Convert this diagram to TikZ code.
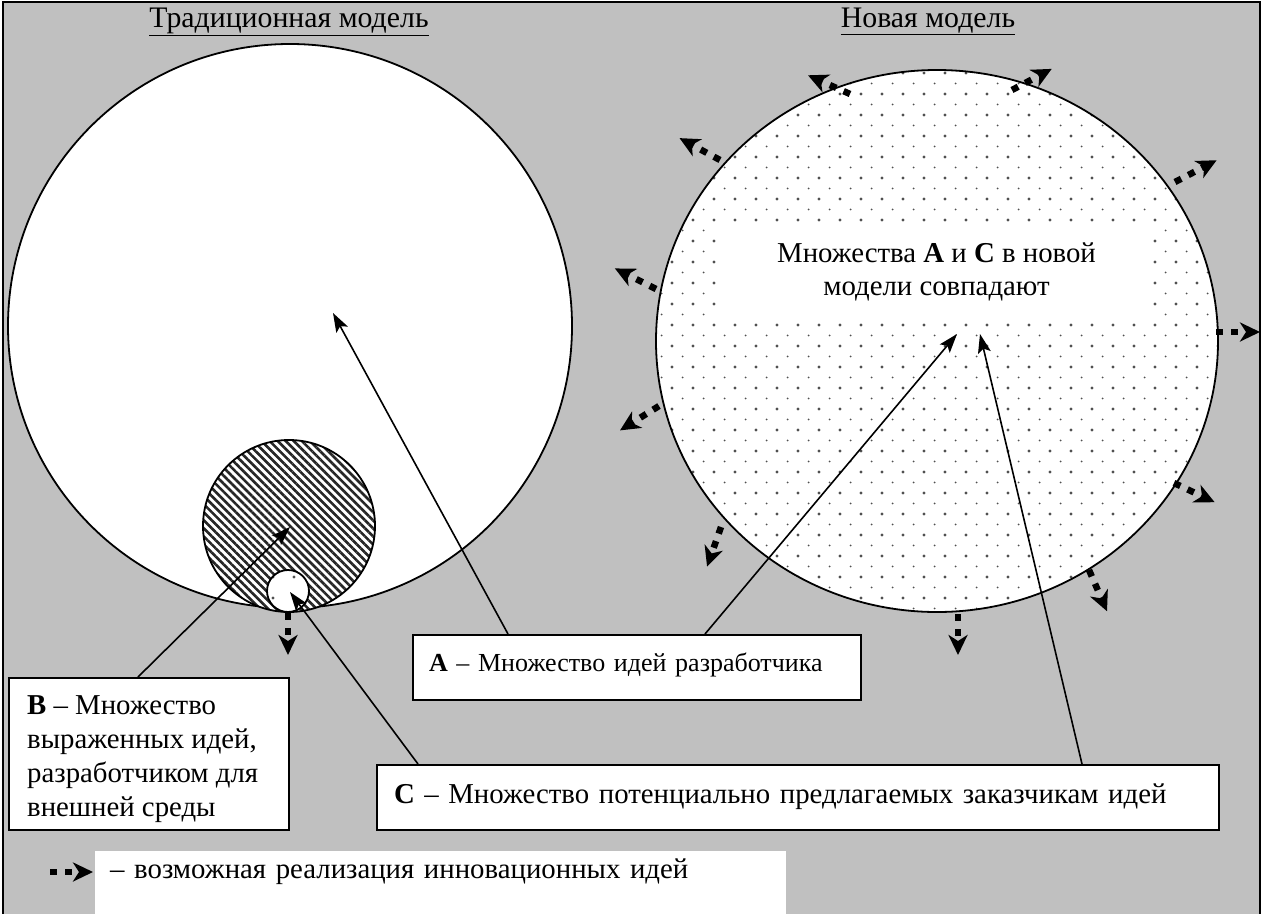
\documentclass[tikz,border=0pt]{standalone}
\usepackage{fontspec}
\setmainfont{Liberation Serif}
\usetikzlibrary{arrows.meta}
\usetikzlibrary{patterns.meta}
\usetikzlibrary{calc}
\usetikzlibrary{positioning}
\definecolor{mygray}{HTML}{C0C0C0}
\definecolor{mydots}{HTML}{505050}
\tikzset{x=1pt, y=-1pt, every node/.style={font={\fontsize{28.8}{34}\selectfont}}}
\tikzstyle{box} = [draw=black, fill=white, line width=2pt, anchor=north west, inner ysep=0pt, align=left]
\tikzstyle{txt} = [anchor=north west, inner sep=0pt, align=left]
\tikzstyle{title} = [anchor=base, font={\fontsize{29.8}{34}\selectfont}]
\tikzstyle{ln} = [draw, line width=1.6pt, -{Stealth[length=19pt, width=13pt, inset=4pt]}]
\tikzstyle{idea} = [draw, line width=6.5pt, dash pattern=on 7pt off 8pt, -{Stealth[length=20pt, width=19pt, inset=6pt]}]
\tikzstyle{ring} = [draw=black, line width=1.8pt]
\tikzstyle{dotsbig} = [pattern={Dots[distance=21pt, radius=1.7pt]}, pattern color=mydots]
\tikzstyle{dotssmall} = [pattern={Dots[distance=21pt, radius=1pt, xshift=10.5pt, yshift=10.5pt]}, pattern color=mydots]

\begin{document}
\begin{tikzpicture}
  \useasboundingbox (0,0) rectangle (1263,913);
  \draw[fill=mygray, line width=2pt] (3,2) rectangle (1260,940);
  % titles
  \node[title] (tTrad) at (289,27) {\underline{Традиционная модель}};
  \node[title] (tNew) at (928,27) {\underline{Новая модель}};
  % traditional model
  \coordinate (tradC) at (290,326);
  \coordinate (hatC) at (289,526);
  \coordinate (smC) at (288,591);
  \draw[ring, fill=white] (tradC) circle [radius=282];
  \fill[white] (hatC) circle [radius=86];
  \fill[pattern={Lines[angle=-45, distance=5.7pt, line width=2.6pt]}, pattern color=black!85] (hatC) circle [radius=86];
  \draw[ring] (hatC) circle [radius=86];
  \fill[white] (smC) circle [radius=21];
  \fill[dotsbig] (smC) circle [radius=21];
  \draw[ring] (smC) circle [radius=21];
  \draw[idea] ($(smC)+(0,22)$) -- ++(0,42);
  % new model
  \coordinate (newC) at (937,341);
  \fill[white] (newC) ellipse [x radius=281, y radius=271];
  \fill[dotsbig] (newC) ellipse [x radius=281, y radius=271];
  \fill[dotssmall] (newC) ellipse [x radius=281, y radius=271];
  \node[fill=white, minimum width=433pt, minimum height=90pt, inner sep=0pt, align=center,
        font={\fontsize{28.8}{33}\selectfont}] (note) at (936.5,272)
        {Множества \textbf{A} и \textbf{C} в новой\\модели совпадают};
  \draw[ring] (newC) ellipse [x radius=281, y radius=271];
  \foreach \dx/\dy/\p/\l in {-87/-247/-156/46, 75/-251/-28/45, 238/-159/-27.6/47,
                             -217/-181/-151.6/46, -281/-52/-153.4/46, 279/-9/0/44,
                             -278/65/148/46, 237/142/25.3/45, -216/186/109.4/42,
                             21/273/90/41, 152/229/66.4/45}
    \draw[idea] ($(newC)+(\dx,\dy)$) -- ++(\p:\l);
  % targets
  \coordinate (cA) at (333,313);
  \coordinate (cB) at (290,527);
  \coordinate (cC) at (290,592);
  \coordinate (cA2) at (957,334);
  \coordinate (cC2) at (980,334);
  % boxes
  \node[box, inner xsep=16pt, text width=416pt, text height=36pt, text depth=29pt,
        font={\fontsize{26}{31}\selectfont}] (boxA) at (412,634)
    {\mbox{\textbf{A} – Множество идей разработчика}};
  \node[box, minimum width=280pt, minimum height=152pt] (boxB) at (8,677) {};
  \node[txt] (txtB) at (27,695)
    {\textbf{B} – Множество\\выраженных идей,\\разработчиком для\\внешней среды};
  \node[box, inner xsep=17pt, text width=808pt, text height=38pt, text depth=27pt] (boxC) at (376,764)
    {\mbox{\textbf{C} – Множество потенциально предлагаемых заказчикам идей}};
  \path[ln] ([xshift=130pt]boxB.north west) -- (cB);
  \path[ln] ([xshift=42pt]boxC.north west) -- (cC);
  \path[ln] ([xshift=96pt]boxA.north west) -- (cA);
  \path[ln] ([xshift=293pt]boxA.north west) -- (cA2);
  \path[ln] ([xshift=706pt]boxC.north west) -- (cC2);
  % legend
  \node[anchor=north west, fill=white, inner xsep=15pt, inner ysep=0pt, text width=661pt,
        text height=27pt, text depth=45pt, align=left] (legend) at (95,851)
    {– возможная реализация инновационных идей};
  \coordinate (legArrow) at (50,872);
  \draw[idea] (legArrow) -- ++(43,0);
\end{tikzpicture}
\end{document}
